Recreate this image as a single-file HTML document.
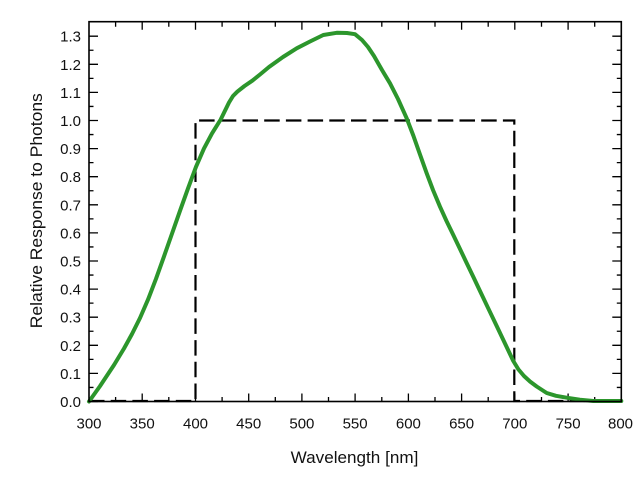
<!DOCTYPE html>
<html>
<head>
<meta charset="utf-8">
<style>
html,body{margin:0;padding:0;background:#fff;}
svg{display:block;}
text{font-family:"Liberation Sans",Arial,sans-serif;fill:#111;}
</style>
</head>
<body>
<svg width="643" height="483" viewBox="0 0 643 483" xmlns="http://www.w3.org/2000/svg">
<rect x="0" y="0" width="643" height="483" fill="#fff"/>
<g id="ticks" stroke="#000" stroke-width="1.3">
<path d="
M89 401.5h9 M89 387.45h4.5 M89 373.4h9 M89 359.35h4.5 M89 345.3h9 M89 331.25h4.5 M89 317.2h9 M89 303.15h4.5
M89 289.1h9 M89 275.05h4.5 M89 261h9 M89 246.95h4.5 M89 232.9h9 M89 218.85h4.5 M89 204.8h9 M89 190.75h4.5
M89 176.7h9 M89 162.65h4.5 M89 148.6h9 M89 134.55h4.5 M89 120.5h9 M89 106.45h4.5 M89 92.4h9 M89 78.35h4.5
M89 64.3h9 M89 50.25h4.5 M89 36.2h9
M621.3 401.5h-9 M621.3 387.45h-4.5 M621.3 373.4h-9 M621.3 359.35h-4.5 M621.3 345.3h-9 M621.3 331.25h-4.5 M621.3 317.2h-9 M621.3 303.15h-4.5
M621.3 289.1h-9 M621.3 275.05h-4.5 M621.3 261h-9 M621.3 246.95h-4.5 M621.3 232.9h-9 M621.3 218.85h-4.5 M621.3 204.8h-9 M621.3 190.75h-4.5
M621.3 176.7h-9 M621.3 162.65h-4.5 M621.3 148.6h-9 M621.3 134.55h-4.5 M621.3 120.5h-9 M621.3 106.45h-4.5 M621.3 92.4h-9 M621.3 78.35h-4.5
M621.3 64.3h-9 M621.3 50.25h-4.5 M621.3 36.2h-9
"/>
<path d="
M115.6 401.5v-4.5 M142.2 401.5v-8 M168.8 401.5v-4.5 M195.5 401.5v-8 M222.1 401.5v-4.5 M248.7 401.5v-8 M275.3 401.5v-4.5
M301.9 401.5v-8 M328.5 401.5v-4.5 M355.1 401.5v-8 M381.8 401.5v-4.5 M408.4 401.5v-8 M435 401.5v-4.5 M461.6 401.5v-8
M488.2 401.5v-4.5 M514.8 401.5v-8 M541.5 401.5v-4.5 M568.1 401.5v-8 M594.7 401.5v-4.5
M115.6 21.7v5 M142.2 21.7v8 M168.8 21.7v5 M195.5 21.7v8 M222.1 21.7v5 M248.7 21.7v8 M275.3 21.7v5
M301.9 21.7v8 M328.5 21.7v5 M355.1 21.7v8 M381.8 21.7v5 M408.4 21.7v8 M435 21.7v5 M461.6 21.7v8
M488.2 21.7v5 M514.8 21.7v8 M541.5 21.7v5 M568.1 21.7v8 M594.7 21.7v5
"/>
</g>
<path d="M89 401 L195.5 401 L195.5 120.5 L514.3 120.5 L514.3 401 L621.3 401" fill="none" stroke="#000" stroke-width="2.2" stroke-dasharray="15.5 6.2"/>
<path d="M89 401.5 L100 386.1 L114 365 L124 348.5 L132 334 L140 318 L148 299.6 L156 278.8 L164 256.4 L172 233.6 L180 210.8 L188 188.4 L196 166.8 L204 148.4 L212 133.4 L220.7 119.5 L229 102.5 L233 96 L237.3 91.7 L244.5 86 L252.3 80.7 L260 74.5 L269 67 L283 57 L296.7 48.3 L310 41.5 L323.3 35 L336.7 32.8 L347 33 L355 34.2 L362 40 L368 47 L374 56 L382 70 L390 83.3 L398 99 L406.7 118.3 L413.3 135.5 L420 154.5 L426.7 173.3 L433 190 L440 206.7 L446.5 221 L453.3 235 L460 249 L466.7 263.1 L473.5 277.3 L480 291 L488 307.8 L496.7 326 L505 343.5 L513.3 361 L518.5 369.5 L524 376 L530 381.5 L536.7 386.5 L546.7 393 L556 395.8 L566.7 397.7 L580 399.7 L593.3 401 L621.3 401" fill="none" stroke="#2c962c" stroke-width="4" stroke-linejoin="round" stroke-linecap="round"/>
<rect x="89" y="21.7" width="532.3" height="379.8" fill="none" stroke="#000" stroke-width="1.6"/>
<g font-size="15" text-anchor="end">
<text x="81" y="407">0.0</text>
<text x="81" y="378.9">0.1</text>
<text x="81" y="350.8">0.2</text>
<text x="81" y="322.7">0.3</text>
<text x="81" y="294.6">0.4</text>
<text x="81" y="266.5">0.5</text>
<text x="81" y="238.4">0.6</text>
<text x="81" y="210.3">0.7</text>
<text x="81" y="182.2">0.8</text>
<text x="81" y="154.1">0.9</text>
<text x="81" y="126">1.0</text>
<text x="81" y="97.9">1.1</text>
<text x="81" y="69.8">1.2</text>
<text x="81" y="41.7">1.3</text>
</g>
<g font-size="15" text-anchor="middle">
<text x="89" y="428.5">300</text>
<text x="142.2" y="428.5">350</text>
<text x="195.5" y="428.5">400</text>
<text x="248.7" y="428.5">450</text>
<text x="301.9" y="428.5">500</text>
<text x="355.1" y="428.5">550</text>
<text x="408.4" y="428.5">600</text>
<text x="461.6" y="428.5">650</text>
<text x="514.8" y="428.5">700</text>
<text x="568.1" y="428.5">750</text>
<text x="620.5" y="428.5">800</text>
</g>
<text x="354.5" y="463" font-size="17" text-anchor="middle" textLength="127.7" lengthAdjust="spacingAndGlyphs">Wavelength [nm]</text>
<text transform="translate(42,210.7) rotate(-90)" x="0" y="0" font-size="17" text-anchor="middle" textLength="235" lengthAdjust="spacingAndGlyphs">Relative Response to Photons</text>
</svg>
</body>
</html>
